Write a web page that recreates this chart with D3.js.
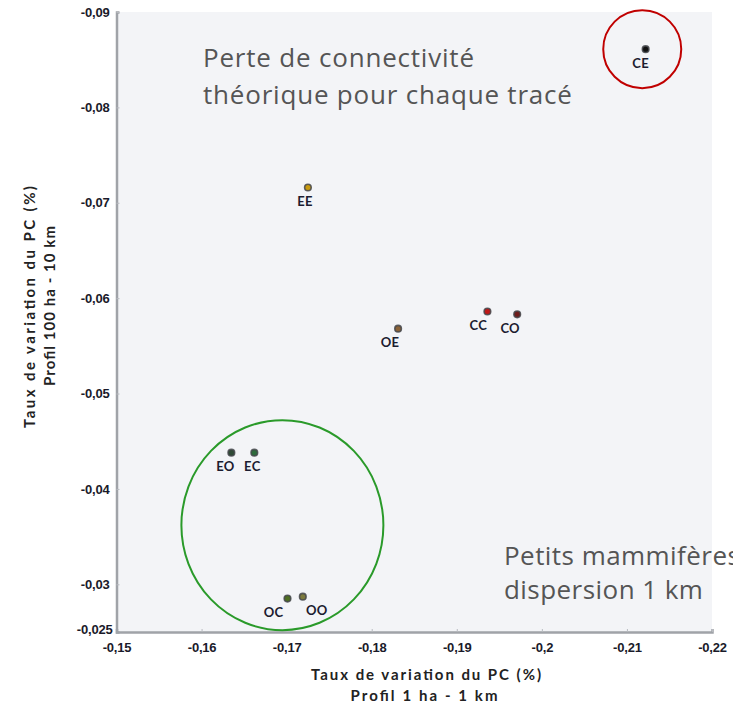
<!DOCTYPE html>
<html>
<head>
<meta charset="utf-8">
<script src="https://cdn.jsdelivr.net/npm/d3@7"></script>
<style>
  html, body { margin: 0; padding: 0; background: #ffffff; overflow: hidden; }
  svg { display: block; }
</style>
</head>
<body>
<svg id="chart" width="733" height="704"></svg>
<script>
// Scenario codes and their loss of connectivity (PC change rate) for two profiles
const codes   = ["CE", "EE", "OE", "CC", "CO", "EO", "EC", "OC", "OO"];
const profil1 = [-0.2122, -0.1725, -0.1831, -0.1936, -0.1971, -0.1635, -0.1662, -0.1701, -0.1719]; // 1 ha - 1 km
const profil100 = [-0.0861, -0.0716, -0.0568, -0.0586, -0.0583, -0.0438, -0.0438, -0.0285, -0.0287]; // 100 ha - 10 km
const dotColors = ["#111111", "#c89a10", "#8a6238", "#c01818", "#6e1c1c", "#2f4a36", "#2e6b3c", "#4e6e22", "#7c7a3e"];

const xTicks = [-0.15, -0.16, -0.17, -0.18, -0.19, -0.20, -0.21, -0.22];
const yTicks = [-0.09, -0.08, -0.07, -0.06, -0.05, -0.04, -0.03, -0.025];

// label placement around each dot (pixels)
const labelDx = [-5, -3, -8, -9, -7, -6, -2, -14, 14];

const svg = d3.select("#chart");

const x = d3.scaleLinear().domain([-0.15, -0.22]).range([116.5, 712]);
const y = d3.scaleLinear().domain([-0.025, -0.09]).range([632, 12]);

const locale = d3.formatLocale({ decimal: ",", thousands: " ", grouping: [3], currency: ["", " €"], minus: "-" });
const fmt = locale.format("~g");

// plot background
svg.append("rect")
  .attr("x", x(-0.15)).attr("y", y(-0.09))
  .attr("width", x(-0.22) - x(-0.15)).attr("height", y(-0.025) - y(-0.09))
  .attr("fill", "#f3f4f7");

const tickFont = "'Liberation Sans', Arial, sans-serif";

// x axis
const xAxis = svg.append("g").attr("transform", `translate(0,${y(-0.025)})`)
  .call(d3.axisBottom(x).tickValues(xTicks).tickFormat(fmt).tickSize(-3).tickPadding(11));
xAxis.select(".domain").attr("stroke", "#a0a3a8").attr("stroke-width", 2.5);
xAxis.selectAll(".tick line").attr("stroke", "#b8bbc0");
xAxis.selectAll(".tick text").attr("font-family", tickFont).attr("font-weight", "bold")
  .attr("font-size", 13).attr("letter-spacing", -0.2).attr("fill", "#1a1a2a");

// y axis
const yAxis = svg.append("g").attr("transform", `translate(${x(-0.15)},0)`)
  .call(d3.axisLeft(y).tickValues(yTicks).tickFormat(fmt).tickSize(-3).tickPadding(7));
yAxis.select(".domain").attr("stroke", "#a0a3a8").attr("stroke-width", 2.5);
yAxis.selectAll(".tick line").attr("stroke", "#b8bbc0");
yAxis.selectAll(".tick text").attr("font-family", tickFont).attr("font-weight", "bold")
  .attr("font-size", 13).attr("letter-spacing", -0.2).attr("fill", "#1a1a2a");
yAxis.selectAll(".tick").filter(d => d === -0.025).select("text").attr("dx", 3).attr("dy", "0.15em");
yAxis.selectAll(".tick").filter(d => d === -0.025).select("line").remove();
xAxis.selectAll(".tick").filter(d => d === -0.15).select("line").remove();

// axis titles
const titleFont = "Lato, 'Open Sans', sans-serif";
const xt = svg.append("text").attr("font-family", titleFont).attr("font-weight", "bold")
  .attr("font-size", 15).attr("fill", "#222").attr("text-anchor", "middle");
xt.append("tspan").attr("x", 426).attr("y", 680).attr("textLength", 230).attr("lengthAdjust", "spacing")
  .text("Taux de variation du PC (%)");
xt.append("tspan").attr("x", 424).attr("y", 701).attr("textLength", 147).attr("lengthAdjust", "spacing")
  .text("Profil 1 ha - 1 km");

const yt = svg.append("text").attr("font-family", titleFont).attr("font-weight", "bold")
  .attr("font-size", 15).attr("fill", "#222").attr("text-anchor", "middle")
  .attr("transform", "rotate(-90)");
yt.append("tspan").attr("x", -307).attr("y", 35).attr("textLength", 242).attr("lengthAdjust", "spacing")
  .text("Taux de variation du PC (%)");
yt.append("tspan").attr("x", -306).attr("y", 55).attr("textLength", 160).attr("lengthAdjust", "spacing")
  .text("Profil 100 ha - 10 km");

// points
const pts = codes.map((c, i) => ({ code: c, px: profil1[i], py: profil100[i], color: dotColors[i], dx: labelDx[i] }));

svg.append("g").selectAll("circle").data(pts).join("circle")
  .attr("cx", d => x(d.px)).attr("cy", d => y(d.py)).attr("r", 3.3)
  .attr("fill", d => d.color).attr("stroke", "#44474b").attr("stroke-width", 1.6).attr("stroke-opacity", 0.85);

svg.append("g").selectAll("text").data(pts).join("text")
  .attr("x", d => x(d.px) + d.dx).attr("y", d => y(d.py) + 18.5)
  .attr("text-anchor", "middle")
  .attr("font-family", "Lato, sans-serif").attr("font-weight", "bold")
  .attr("font-size", 13).attr("letter-spacing", 0.3).attr("fill", "#1c1c30")
  .text(d => d.code);

// highlight circles
svg.append("ellipse")
  .attr("cx", x(-0.1695)).attr("cy", y(-0.0362)).attr("rx", 101).attr("ry", 105)
  .attr("fill", "none").attr("stroke", "#2a9a2a").attr("stroke-width", 2);
svg.append("circle")
  .attr("cx", x(-0.2118)).attr("cy", y(-0.0861)).attr("r", 39)
  .attr("fill", "none").attr("stroke", "#c00000").attr("stroke-width", 2);

// annotations
const noteFont = "'Open Sans', 'Noto Sans', sans-serif";
const n1 = svg.append("text").attr("font-family", noteFont).attr("font-size", 26)
  .attr("letter-spacing", 0.8).attr("fill", "#555555");
n1.append("tspan").attr("x", 203).attr("y", 67).text("Perte de connectivité");
n1.append("tspan").attr("x", 203).attr("y", 104).text("théorique  pour chaque tracé");

const n2 = svg.append("text").attr("font-family", noteFont).attr("font-size", 26)
  .attr("letter-spacing", 0.45).attr("fill", "#555555");
n2.append("tspan").attr("x", 504).attr("y", 565).text("Petits mammifères");
n2.append("tspan").attr("x", 504).attr("y", 599).text("dispersion 1 km");
</script>
</body>
</html>
